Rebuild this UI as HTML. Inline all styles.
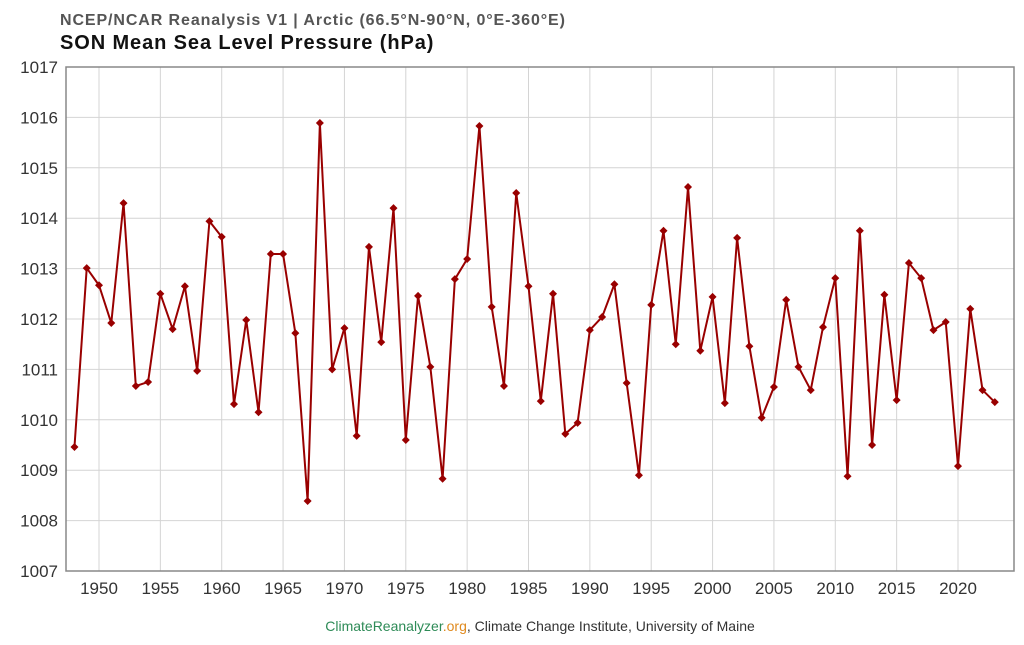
<!DOCTYPE html>
<html><head><meta charset="utf-8"><style>
body{margin:0;background:#fff;width:1024px;height:640px;overflow:hidden;font-family:"Liberation Sans",sans-serif}
</style></head><body>
<svg width="1024" height="640">
<text x="60" y="25" font-size="16" font-weight="bold" letter-spacing="0.9" fill="#555">NCEP/NCAR Reanalysis V1 | Arctic (66.5°N-90°N, 0°E-360°E)</text>
<text x="60" y="49" font-size="20" font-weight="bold" letter-spacing="0.9" fill="#111">SON Mean Sea Level Pressure (hPa)</text>
<g id="grid"></g><g id="axes"></g><g id="series"></g>
<text x="540" y="631" font-size="14" text-anchor="middle" fill="#333"><tspan fill="#2e8b57">ClimateReanalyzer</tspan><tspan fill="#e08a1e">.org</tspan>, Climate Change Institute, University of Maine</text>
</svg>
<script>
const years=[];for(let y=1948;y<=2023;y++)years.push(y);
const values=[1009.46,1013.01,1012.67,1011.92,1014.3,1010.67,1010.75,1012.5,1011.8,1012.65,1010.97,1013.94,1013.63,1010.31,1011.98,1010.15,1013.29,1013.29,1011.72,1008.39,1015.89,1011.0,1011.82,1009.68,1013.43,1011.54,1014.2,1009.6,1012.46,1011.05,1008.83,1012.79,1013.19,1015.83,1012.24,1010.67,1014.5,1012.65,1010.37,1012.5,1009.72,1009.94,1011.78,1012.04,1012.69,1010.73,1008.9,1012.28,1013.75,1011.5,1014.62,1011.37,1012.44,1010.33,1013.61,1011.46,1010.04,1010.65,1012.38,1011.05,1010.59,1011.84,1012.81,1008.88,1013.75,1009.5,1012.48,1010.39,1013.11,1012.81,1011.78,1011.94,1009.08,1012.2,1010.59,1010.35];
const yTicks=[1007,1008,1009,1010,1011,1012,1013,1014,1015,1016,1017];
const xTicks=[1950,1955,1960,1965,1970,1975,1980,1985,1990,1995,2000,2005,2010,2015,2020];
const L=66,R=1014,T=67,B=571;
const X=v=>99+(v-1950)*(859/70);
const Y=v=>B-(v-1007)*(B-T)/10;
const NS='http://www.w3.org/2000/svg';
function mk(p,tag,a){const e=document.createElementNS(NS,tag);for(const k in a)e.setAttribute(k,a[k]);p.appendChild(e);return e;}
const g=document.getElementById('grid'),ax=document.getElementById('axes'),s=document.getElementById('series');
yTicks.forEach(t=>{const l=mk(g,'line',{x1:L,x2:R,y1:Y(t),y2:Y(t),stroke:'#d4d4d4'});


const tx=mk(ax,'text',{x:L-8,y:Y(t)+6,'font-size':17,'text-anchor':'end',fill:'#333'});tx.textContent=t;

});
xTicks.forEach(t=>{const l=mk(g,'line',{x1:X(t),x2:X(t),y1:T,y2:B,stroke:'#d4d4d4'});


const tx=mk(ax,'text',{x:X(t),y:B+23,'font-size':17,'text-anchor':'middle',fill:'#333'});tx.textContent=t;

});
const fr=mk(ax,'rect',{x:L,y:T,width:R-L,height:B-T,fill:'none',stroke:'#888','stroke-width':1.5});


const pl=mk(s,'polyline',{points:years.map((y,i)=>X(y)+','+Y(values[i])).join(' '),fill:'none',stroke:'#990000','stroke-width':2});


years.forEach((y,i)=>{const cx=X(y),cy=Y(values[i]);
const d=mk(s,'polygon',{points:`${cx},${cy-4} ${cx+4},${cy} ${cx},${cy+4} ${cx-4},${cy}`,fill:'#990000'});

});
</script>
</body></html>
